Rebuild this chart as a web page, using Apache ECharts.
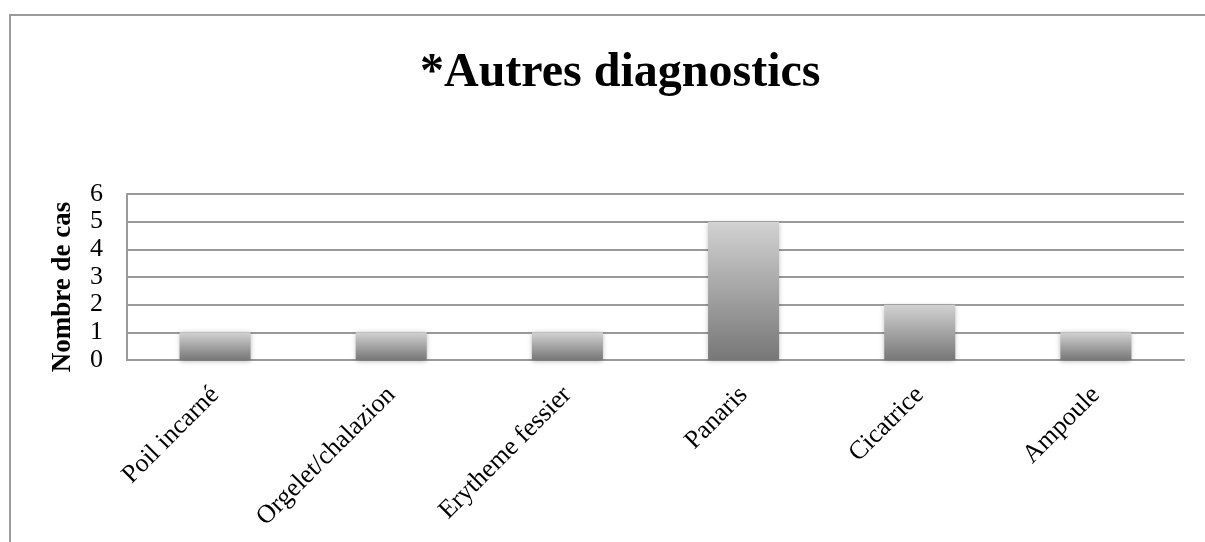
<!DOCTYPE html>
<html>
<head>
<meta charset="utf-8">
<script src="https://cdn.jsdelivr.net/npm/echarts@6/dist/echarts.min.js"></script>
<style>
html,body{margin:0;padding:0;background:#fff;}
#chart{width:1205px;height:542px;}
</style>
</head>
<body>
<div id="chart"></div>
<script>
const categories = ["Poil incarné", "Orgelet/chalazion", "Erytheme fessier", "Panaris", "Cicatrice", "Ampoule"];
const values = [1, 1, 1, 5, 2, 1];
const titleText = "*Autres diagnostics";
const yAxisName = "Nombre de cas";

const serif = '"Liberation Serif", "DejaVu Serif", serif';
const chart = echarts.init(document.getElementById('chart'));
chart.setOption({
  animation: false,
  backgroundColor: '#fff',
  title: {
    text: titleText,
    left: 415,
    top: 45,
    textStyle: { fontFamily: serif, fontWeight: 'bold', fontSize: 48, color: '#000' }
  },
  graphic: [{
    type: 'rect',
    shape: { x: 10, y: 15, width: 1220, height: 560 },
    style: { fill: 'none', stroke: '#9a9a9a', lineWidth: 2 },
    silent: true
  }],
  grid: { left: 127, right: 21, top: 194, bottom: 182, containLabel: false },
  xAxis: {
    type: 'category',
    data: categories,
    axisLine: { show: true, lineStyle: { color: '#999', width: 2 } },
    axisTick: { show: false },
    axisLabel: { rotate: 45, margin: 31, fontFamily: serif, fontSize: 26, color: '#000', interval: 0 }
  },
  yAxis: {
    type: 'value',
    min: 0, max: 6, interval: 1,
    name: yAxisName,
    nameLocation: 'middle',
    nameGap: 50,
    nameTextStyle: { fontFamily: serif, fontWeight: 'bold', fontSize: 27, color: '#000', padding: [0, 20, 0, 0] },
    axisLine: { show: true, lineStyle: { color: '#999', width: 2 } },
    axisTick: { show: false },
    axisLabel: { fontFamily: serif, fontSize: 26, color: '#000', margin: 24 },
    splitLine: { show: true, lineStyle: { color: '#999', width: 2 } }
  },
  series: [{
    type: 'bar',
    data: values,
    barWidth: 71,
    itemStyle: {
      color: new echarts.graphic.LinearGradient(0, 0, 0, 1, [
        { offset: 0, color: '#d2d2d2' },
        { offset: 1, color: '#777777' }
      ]),
      shadowBlur: 5,
      shadowColor: 'rgba(0,0,0,0.3)',
      shadowOffsetY: 1
    }
  }]
});
</script>
</body>
</html>
